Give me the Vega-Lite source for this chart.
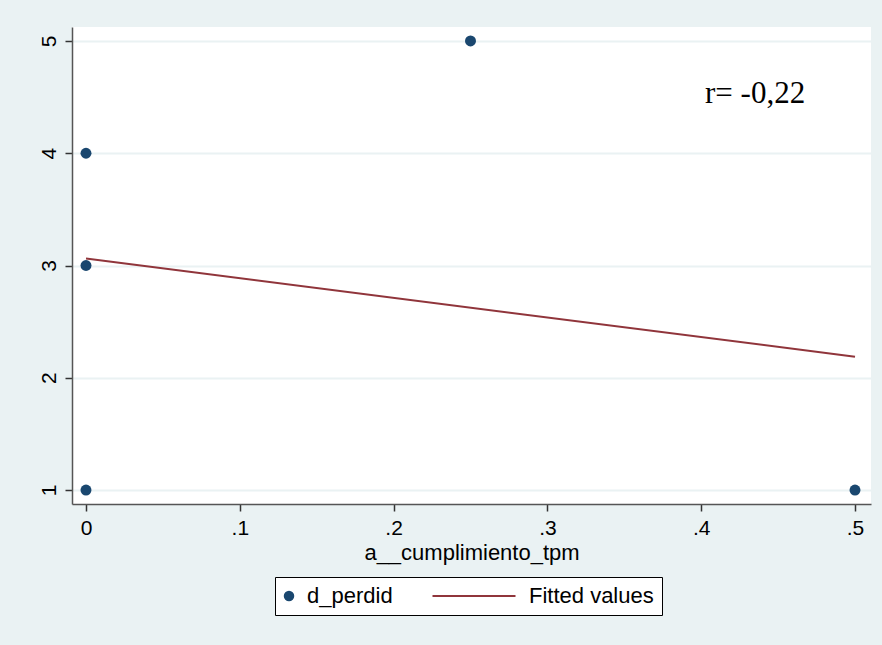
{
  "$schema": "https://vega.github.io/schema/vega-lite/v6.json",
  "width": 799,
  "height": 477,
  "autosize": {"type": "none"},
  "padding": {"left": 72, "top": 27, "right": 11, "bottom": 141},
  "background": "#eaf2f3",
  "config": {
    "view": {"fill": "white", "stroke": null},
    "font": "Liberation Sans"
  },
  "datasets": {
    "points": [
      {"a__cumplimiento_tpm": 0, "d_perdid": 1, "series": "d_perdid"},
      {"a__cumplimiento_tpm": 0, "d_perdid": 3, "series": "d_perdid"},
      {"a__cumplimiento_tpm": 0, "d_perdid": 4, "series": "d_perdid"},
      {"a__cumplimiento_tpm": 0.25, "d_perdid": 5, "series": "d_perdid"},
      {"a__cumplimiento_tpm": 0.5, "d_perdid": 1, "series": "d_perdid"}
    ],
    "fit": [
      {"a__cumplimiento_tpm": 0, "d_perdid": 3.0625, "series": "Fitted values"},
      {"a__cumplimiento_tpm": 0.5, "d_perdid": 2.1875, "series": "Fitted values"}
    ],
    "note": [
      {"a__cumplimiento_tpm": 0.4025, "d_perdid": 4.53, "label": "r= -0,22"}
    ]
  },
  "layer": [
    {
      "data": {"name": "fit"},
      "mark": {"type": "line", "strokeWidth": 2},
      "encoding": {
        "x": {
          "field": "a__cumplimiento_tpm",
          "type": "quantitative",
          "scale": {"domain": [-0.0091, 0.5104], "nice": false, "zero": false},
          "axis": {
            "title": "a__cumplimiento_tpm",
            "values": [0, 0.1, 0.2, 0.3, 0.4, 0.5],
            "labelExpr": "datum.value === 0 ? '0' : replace(format(datum.value, '.1f'), '0.', '.')",
            "grid": false,
            "domainColor": "#555555",
            "domainWidth": 1.5,
            "tickColor": "#333333",
            "tickSize": 7,
            "tickWidth": 1.5,
            "labelFontSize": 21,
            "labelColor": "black",
            "labelPadding": 6,
            "titleFontSize": 22,
            "titleFontWeight": "normal",
            "titleColor": "black",
            "titlePadding": 4
          }
        },
        "y": {
          "field": "d_perdid",
          "type": "quantitative",
          "scale": {"domain": [0.8753, 5.1247], "nice": false, "zero": false},
          "axis": {
            "title": null,
            "values": [1, 2, 3, 4, 5],
            "format": "d",
            "grid": true,
            "gridColor": "#eaf2f3",
            "gridWidth": 2,
            "domainColor": "#555555",
            "domainWidth": 1.5,
            "tickColor": "#333333",
            "tickSize": 7,
            "tickWidth": 1.5,
            "labelFontSize": 21,
            "labelColor": "black",
            "labelAngle": 270,
            "labelAlign": "center",
            "labelBaseline": "bottom",
            "labelPadding": 6
          }
        },
        "color": {
          "field": "series",
          "type": "nominal",
          "scale": {"domain": ["d_perdid", "Fitted values"], "range": ["#1a476f", "#90353b"]},
          "legend": {
            "title": null,
            "orient": "none",
            "legendX": 203,
            "legendY": 550,
            "direction": "horizontal",
            "fillColor": "white",
            "strokeColor": "black",
            "padding": 8,
            "labelFontSize": 22,
            "labelColor": "black",
            "labelOffset": 14,
            "columnPadding": 35,
            "symbolType": "stroke",
            "symbolSize": 6889,
            "symbolStrokeWidth": 2,
            "encode": {
              "symbols": {
                "update": {
                  "shape": {"signal": "datum.value === 'd_perdid' ? 'circle' : 'stroke'"},
                  "size": {"signal": "datum.value === 'd_perdid' ? 110 : 6889"},
                  "fill": {"signal": "datum.value === 'd_perdid' ? '#1a476f' : 'transparent'"},
                  "stroke": {"signal": "datum.value === 'd_perdid' ? '#1a476f' : '#90353b'"},
                  "strokeWidth": {"signal": "datum.value === 'd_perdid' ? 0 : 2"},
                  "opacity": {"value": 1},
                  "x": {"signal": "datum.value === 'd_perdid' ? 6 : 42"}
                }
              },
              "labels": {
                "update": {
                  "x": {"signal": "datum.value === 'd_perdid' ? 24 : 97"}
                }
              }
            }
          }
        }
      }
    },
    {
      "data": {"name": "points"},
      "mark": {"type": "point", "filled": true, "size": 120, "opacity": 1, "shape": "circle"},
      "encoding": {
        "x": {"field": "a__cumplimiento_tpm", "type": "quantitative"},
        "y": {"field": "d_perdid", "type": "quantitative", "title": null},
        "color": {"field": "series", "type": "nominal"}
      }
    },
    {
      "data": {"name": "note"},
      "mark": {"type": "text", "font": "Liberation Serif", "fontSize": 31, "align": "left", "baseline": "middle", "color": "black"},
      "encoding": {
        "x": {"field": "a__cumplimiento_tpm", "type": "quantitative"},
        "y": {"field": "d_perdid", "type": "quantitative", "title": null},
        "text": {"field": "label"}
      }
    }
  ]
}
